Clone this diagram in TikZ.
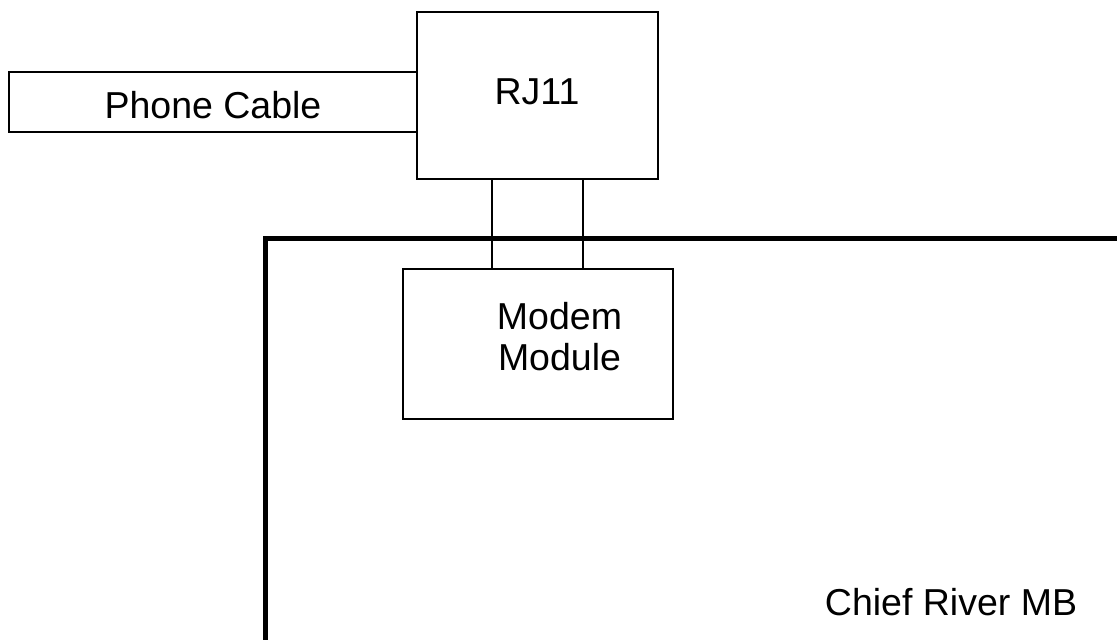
\documentclass[tikz,border=0pt]{standalone}
\usepackage{fontspec}
\setmainfont{Liberation Sans}
\begin{document}
\begin{tikzpicture}[x=1pt,y=-1pt,
  box/.style={draw, line width=2pt, inner sep=0pt, anchor=north west},
  lbl/.style={font=\fontsize{37.5}{40}\selectfont, inner sep=0pt, anchor=base},
  wire/.style={line width=2pt},
  board/.style={line width=5pt}]
  \useasboundingbox (0,0) rectangle (1117,640);
  % motherboard outline (open on the right and bottom)
  \coordinate (mbbl) at (265.5,640);
  \coordinate (mbtl) at (265.5,238);
  \coordinate (mbtr) at (1117,238);
  \draw[board] (mbbl) -- (mbtl) -- (mbtr);
  \node[lbl] (mb) at (951,615) {Chief River MB};
  % boxes
  \node[box, minimum width=408pt, minimum height=60pt] (cable) at (8,71) {};
  \node[lbl] (cabletxt) at (213,118) {Phone Cable};
  \node[box, minimum width=241pt, minimum height=167pt, fill=white] (rj) at (416,11) {};
  \node[lbl] (rjtxt) at (537,104) {RJ11};
  \node[box, minimum width=270pt, minimum height=150pt, fill=white] (modem) at (402,268) {};
  \node[lbl] (modemtxt1) at (559.5,329) {Modem};
  \node[lbl] (modemtxt2) at (559.5,370) {Module};
  % two conductors between the jack and the module
  \path (rj.south west) ++(76,0) coordinate (w1a);
  \path (modem.north west) ++(90,0) coordinate (w1b);
  \path (rj.south west) ++(167,0) coordinate (w2a);
  \path (modem.north west) ++(181,0) coordinate (w2b);
  \draw[wire] (w1a) -- (w1b);
  \draw[wire] (w2a) -- (w2b);
\end{tikzpicture}
\end{document}
